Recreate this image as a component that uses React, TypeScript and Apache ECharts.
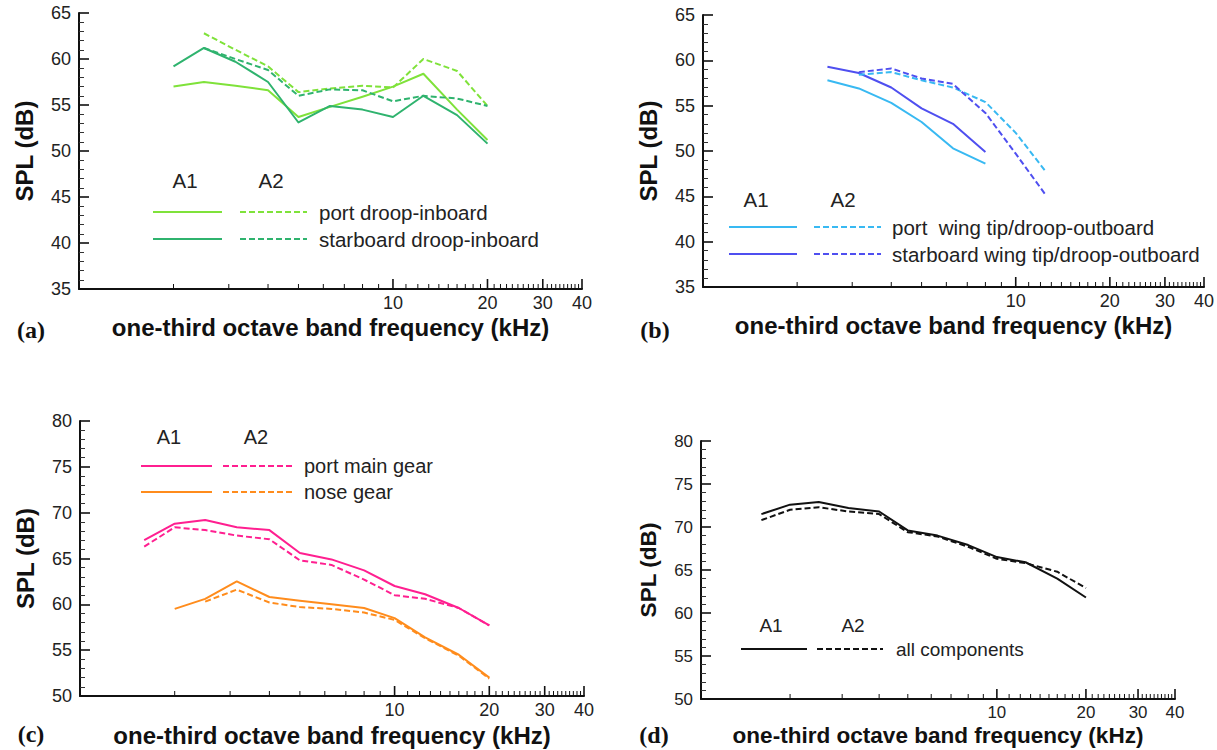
import React, { useEffect, useRef } from 'react';
import * as echarts from 'echarts';

// ---------------- data ----------------
// one-third octave band centre frequencies (kHz)
const freqFrom2k = [2, 2.5, 3.15, 4, 5, 6.3, 8, 10, 12.5, 16, 20];
const freqFrom2p5k = [2.5, 3.15, 4, 5, 6.3, 8, 10, 12.5, 16, 20];
const freqFrom1p6k = [1.6, 2, 2.5, 3.15, 4, 5, 6.3, 8, 10, 12.5, 16, 20];
const freqB1 = [2.5, 3.15, 4, 5, 6.3, 8];
const freqB2 = [3.15, 4, 5, 6.3, 8, 10, 12.5];

// (a) droop-inboard
const portDroopA1 = [57.0, 57.5, 57.1, 56.6, 53.7, 54.8, 55.9, 57.0, 58.4, 54.5, 51.2];
const starDroopA1 = [59.2, 61.2, 59.7, 57.5, 53.1, 54.9, 54.5, 53.7, 56.0, 53.9, 50.8];
const portDroopA2 = [62.8, 61.0, 59.2, 56.4, 56.8, 57.1, 56.9, 60.0, 58.7, 54.9];
const starDroopA2 = [61.2, 60.0, 58.8, 56.0, 56.7, 56.6, 55.4, 56.0, 55.7, 54.9];

// (b) wing tip / droop-outboard
const portWingA1 = [57.8, 56.9, 55.3, 53.2, 50.3, 48.6];
const starWingA1 = [59.3, 58.6, 57.0, 54.7, 53.0, 49.9];
const portWingA2 = [58.4, 58.7, 57.8, 57.0, 55.4, 52.0, 47.7];
const starWingA2 = [58.7, 59.1, 58.0, 57.4, 54.2, 49.7, 45.1];

// (c) gears
const mainGearA1 = [67.0, 68.8, 69.2, 68.4, 68.1, 65.6, 64.9, 63.7, 62.0, 61.1, 59.6, 57.7];
const mainGearA2 = [66.3, 68.4, 68.1, 67.5, 67.1, 64.8, 64.3, 62.7, 61.0, 60.6, 59.6, 57.7];
const noseGearA1 = [59.5, 60.6, 62.5, 60.8, 60.4, 60.0, 59.6, 58.5, 56.4, 54.5, 52.0];
const noseGearA2 = [60.3, 61.6, 60.2, 59.7, 59.5, 59.1, 58.3, 56.3, 54.4, 51.9];

// (d) all components
const allA1 = [71.5, 72.6, 72.9, 72.2, 71.8, 69.6, 69.0, 67.9, 66.5, 65.9, 64.0, 61.8];
const allA2 = [70.8, 72.0, 72.3, 71.8, 71.5, 69.4, 68.9, 67.7, 66.3, 65.8, 64.8, 62.9];

// x axis ticks
const xMajorTicks = [10, 20, 30, 40];
const xTickLabels = ['10', '20', '30', '40'];
const xMinorTicks = [2, 3, 4, 5, 6, 7, 8, 9, 11, 12, 13, 14, 15, 16, 17, 18, 19,
  21, 22, 23, 24, 25, 26, 27, 28, 29, 31, 32, 33, 34, 35, 36, 37, 38, 39];

// ---------------- styles / layout ----------------
const FONT = '"Liberation Sans", Arial, Helvetica, sans-serif';
const SERIF = '"Liberation Serif", "Times New Roman", serif';
const AXIS_COLOR = '#111';
const TEXT_COLOR = '#222';
const DASH = [6, 3];
const TICK_FONT = 18;
const LEGEND_FONT = 20;
const TITLE_FONT = 24;

const C_PORT_DROOP = '#7fe23a';
const C_STAR_DROOP = '#2fb36e';
const C_PORT_WING = '#38b9f2';
const C_STAR_WING = '#4f4ff0';
const C_MAIN_GEAR = '#ff1f90';
const C_NOSE_GEAR = '#ff8c1c';
const C_ALL = '#111111';

const panels = [
  { left: 79, top: 13, width: 503, height: 276, yMin: 35, yMax: 65, letter: '(a)', lx: 31, ly: 330, fs: 1, yGap: 43, xGap: 26 },
  { left: 703, top: 15, width: 501, height: 272, yMin: 35, yMax: 65, letter: '(b)', lx: 655, ly: 330, fs: 1, yGap: 43, xGap: 26 },
  { left: 80, top: 421, width: 504, height: 275, yMin: 50, yMax: 80, letter: '(c)', lx: 31, ly: 734, fs: 1, yGap: 43, xGap: 27 },
  { left: 701, top: 441, width: 474, height: 258, yMin: 50, yMax: 80, letter: '(d)', lx: 654, ly: 735, fs: 0.94, yGap: 41, xGap: 25 },
];

type LegendRow = { label: string; color: string };
const legends: { a1: number[]; a2: number[]; solid: number[]; dash: number[]; textX: number; rowY: number[]; fs: number; rows: LegendRow[] }[] = [
  { a1: [185, 180], a2: [271, 180], solid: [153, 222], dash: [240, 307], textX: 319, rowY: [212, 239], fs: 20.5,
    rows: [{ label: 'port droop-inboard', color: C_PORT_DROOP }, { label: 'starboard droop-inboard', color: C_STAR_DROOP }] },
  { a1: [756, 199], a2: [843, 199], solid: [729, 797], dash: [814, 881], textX: 892, rowY: [227, 254], fs: 20.5,
    rows: [{ label: 'port  wing tip/droop-outboard', color: C_PORT_WING }, { label: 'starboard wing tip/droop-outboard', color: C_STAR_WING }] },
  { a1: [169, 437], a2: [256, 437], solid: [141, 212], dash: [223, 294], textX: 304, rowY: [466, 492], fs: LEGEND_FONT,
    rows: [{ label: 'port main gear', color: C_MAIN_GEAR }, { label: 'nose gear', color: C_NOSE_GEAR }] },
  { a1: [771, 625], a2: [853, 625], solid: [741, 807], dash: [817, 883], textX: 896, rowY: [649], fs: 19,
    rows: [{ label: 'all components', color: C_ALL }] },
];

const pairs = (fs: number[], vs: number[]) => fs.map((f, i) => [f, vs[i]]);

const lineSeries = (idx: number, name: string, fs: number[], vs: number[], color: string, dashed: boolean) => ({
  type: 'line',
  name,
  xAxisIndex: idx,
  yAxisIndex: idx,
  data: pairs(fs, vs),
  showSymbol: false,
  symbol: 'none',
  silent: true,
  lineStyle: { color, width: 2, type: dashed ? DASH : 'solid', cap: 'butt', join: 'round' },
});

const tickData = [...xMinorTicks.map((f) => [f, 0]), ...xMajorTicks.map((f) => [f, 1])];

const tickSeries = (idx: number) => ({
  type: 'custom',
  xAxisIndex: idx,
  yAxisIndex: idx,
  data: tickData,
  silent: true,
  clip: false,
  z: 5,
  renderItem: (params: any, api: any) => {
    const f = api.value(0);
    const major = api.value(1) === 1;
    const x = api.coord([f, panels[idx].yMin])[0];
    const cs = params.coordSys;
    const yb = cs.y + cs.height;
    const children: any[] = [
      {
        type: 'line',
        shape: { x1: x, y1: yb, x2: x, y2: yb - (major ? 10 : 5) },
        style: { stroke: AXIS_COLOR, lineWidth: major ? 1.6 : 1 },
      },
    ];
    if (major) {
      children.push({
        type: 'text',
        x,
        y: yb + 5,
        style: {
          text: xTickLabels[xMajorTicks.indexOf(f)],
          align: 'center',
          verticalAlign: 'top',
          fontSize: TICK_FONT * panels[idx].fs,
          fontFamily: FONT,
          fill: TEXT_COLOR,
        },
      });
    }
    return { type: 'group', children };
  },
});

function buildOption() {
  const grid = panels.map((p) => ({
    left: p.left,
    top: p.top,
    width: p.width,
    height: p.height,
    containLabel: false,
    outerBoundsMode: 'none',
  }));
  const xAxis = panels.map((p, i) => ({
    type: 'log',
    logBase: 10,
    gridIndex: i,
    min: 1,
    max: 40,
    axisLine: { show: true, lineStyle: { color: AXIS_COLOR, width: 2 } },
    axisTick: { show: false },
    minorTick: { show: false },
    axisLabel: { show: false },
    splitLine: { show: false },
    minorSplitLine: { show: false },
    name: 'one-third octave band frequency (kHz)',
    nameLocation: 'middle',
    nameGap: p.xGap,
    nameTextStyle: { fontSize: TITLE_FONT * p.fs, fontWeight: 'bold', color: AXIS_COLOR, fontFamily: FONT },
  }));
  const yAxis = panels.map((p, i) => ({
    type: 'value',
    gridIndex: i,
    min: p.yMin,
    max: p.yMax,
    interval: 5,
    axisLine: { show: true, lineStyle: { color: AXIS_COLOR, width: 2 } },
    axisTick: { show: true, inside: true, length: 10, lineStyle: { color: AXIS_COLOR, width: 1.6 } },
    minorTick: { show: true, splitNumber: 5, length: 5, lineStyle: { color: '#333', width: 1 } },
    splitLine: { show: false },
    axisLabel: { color: TEXT_COLOR, fontSize: TICK_FONT * p.fs, fontFamily: FONT, margin: 8 },
    name: 'SPL (dB)',
    nameLocation: 'middle',
    nameGap: p.yGap,
    nameTextStyle: { fontSize: TITLE_FONT * p.fs, fontWeight: 'bold', color: AXIS_COLOR, fontFamily: FONT },
  }));

  const series: any[] = [
    lineSeries(0, 'port droop-inboard A1', freqFrom2k, portDroopA1, C_PORT_DROOP, false),
    lineSeries(0, 'starboard droop-inboard A1', freqFrom2k, starDroopA1, C_STAR_DROOP, false),
    lineSeries(0, 'port droop-inboard A2', freqFrom2p5k, portDroopA2, C_PORT_DROOP, true),
    lineSeries(0, 'starboard droop-inboard A2', freqFrom2p5k, starDroopA2, C_STAR_DROOP, true),

    lineSeries(1, 'port wing tip A1', freqB1, portWingA1, C_PORT_WING, false),
    lineSeries(1, 'starboard wing tip A1', freqB1, starWingA1, C_STAR_WING, false),
    lineSeries(1, 'port wing tip A2', freqB2, portWingA2, C_PORT_WING, true),
    lineSeries(1, 'starboard wing tip A2', freqB2, starWingA2, C_STAR_WING, true),

    lineSeries(2, 'port main gear A1', freqFrom1p6k, mainGearA1, C_MAIN_GEAR, false),
    lineSeries(2, 'port main gear A2', freqFrom1p6k, mainGearA2, C_MAIN_GEAR, true),
    lineSeries(2, 'nose gear A1', freqFrom2k, noseGearA1, C_NOSE_GEAR, false),
    lineSeries(2, 'nose gear A2', freqFrom2p5k, noseGearA2, C_NOSE_GEAR, true),

    lineSeries(3, 'all components A1', freqFrom1p6k, allA1, C_ALL, false),
    lineSeries(3, 'all components A2', freqFrom1p6k, allA2, C_ALL, true),
  ];
  panels.forEach((_, i) => series.push(tickSeries(i)));

  const graphic: any[] = [];
  panels.forEach((p) => {
    graphic.push({
      type: 'text',
      x: p.lx,
      y: p.ly,
      style: { text: p.letter, font: `bold 24px ${SERIF}`, fill: '#111', align: 'center', verticalAlign: 'middle' },
    });
  });
  legends.forEach((lg) => {
    graphic.push({ type: 'text', x: lg.a1[0], y: lg.a1[1], style: { text: 'A1', font: `${lg.fs}px ${FONT}`, fill: TEXT_COLOR, align: 'center', verticalAlign: 'middle' } });
    graphic.push({ type: 'text', x: lg.a2[0], y: lg.a2[1], style: { text: 'A2', font: `${lg.fs}px ${FONT}`, fill: TEXT_COLOR, align: 'center', verticalAlign: 'middle' } });
    lg.rows.forEach((r, k) => {
      const y = lg.rowY[k];
      graphic.push({ type: 'line', shape: { x1: lg.solid[0], y1: y, x2: lg.solid[1], y2: y }, style: { stroke: r.color, lineWidth: 2 } });
      graphic.push({ type: 'line', shape: { x1: lg.dash[0], y1: y, x2: lg.dash[1], y2: y }, style: { stroke: r.color, lineWidth: 2, lineDash: DASH } });
      graphic.push({ type: 'text', x: lg.textX, y, style: { text: r.label, font: `${lg.fs}px ${FONT}`, fill: TEXT_COLOR, align: 'left', verticalAlign: 'middle' } });
    });
  });

  return {
    animation: false,
    backgroundColor: '#ffffff',
    grid,
    xAxis,
    yAxis,
    series,
    graphic,
  };
}

export default function App() {
  const ref = useRef<HTMLDivElement>(null);
  useEffect(() => {
    document.body.style.margin = '0';
    const chart = echarts.init(ref.current as HTMLDivElement, null, { renderer: 'svg' });
    chart.setOption(buildOption() as any);
    return () => {
      chart.dispose();
    };
  }, []);
  return <div ref={ref} style={{ width: 1217, height: 750 }} />;
}
